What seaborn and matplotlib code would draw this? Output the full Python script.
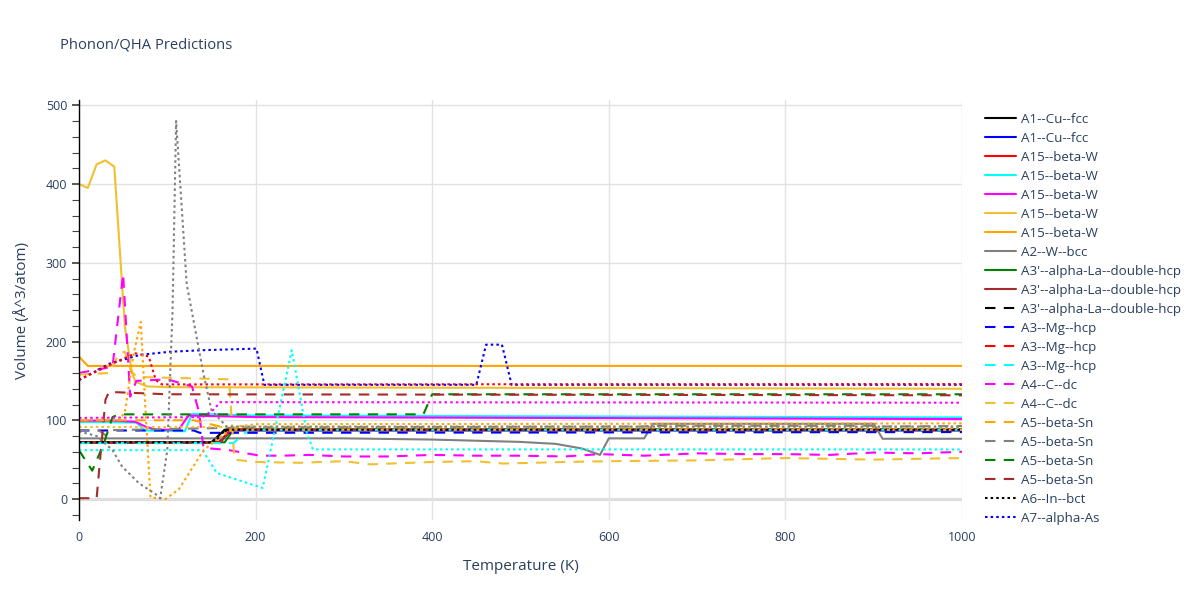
import numpy as np
import pandas as pd
import matplotlib
matplotlib.use("Agg")
import matplotlib.pyplot as plt
import seaborn as sns
from matplotlib.ticker import MultipleLocator

# ---- data (temperature K, volume A^3/atom) ----
cu_black_t = [0, 150, 165, 1000]
cu_black_v = [72, 72, 88, 88]
cu_blue_t = [0, 160, 172, 1000]
cu_blue_v = [72, 72, 87, 87]
w_red_t = [0, 158, 172, 1000]
w_red_v = [72, 72, 88, 88]
w_cyan_t = [0, 65, 75, 120, 128, 140, 200, 1000]
w_cyan_v = [98, 97, 87, 86, 108, 108, 106, 103.6]
w_magenta_t = [0, 40, 64, 75, 87, 113, 124, 200, 1000]
w_magenta_v = [99.5, 99.5, 98, 92, 88, 88, 106, 104, 101.5]
w_gold_t = [0, 10, 20, 30, 40, 52, 60, 64, 77, 100, 1000]
w_gold_v = [400, 395, 425, 430, 422, 219, 160, 149, 143, 142, 140]
w_orange_t = [0, 10, 1000]
w_orange_v = [181, 169, 169]
w_bcc_t = [0, 300, 400, 500, 540, 570, 590, 600, 640, 650, 900, 910, 1000]
w_bcc_v = [77, 77, 75.5, 72.5, 70, 64, 56, 77, 77, 95.5, 95.5, 76.5, 76.5]
la_green_t = [0, 165, 175, 1000]
la_green_v = [72, 72, 88, 88]
la_brown_t = [0, 160, 172, 1000]
la_brown_v = [72, 72, 88, 88]

la_black_dash_t = [0, 152, 168, 1000]
la_black_dash_v = [71.5, 71.5, 88, 88]
mg_blue_dash_t = [0, 130, 137, 1000]
mg_blue_dash_v = [87, 87, 84, 85]
mg_red_dash_t = [0, 158, 172, 1000]
mg_red_dash_v = [71.5, 71.5, 88, 88]
mg_cyan_dash_t = [0, 175, 192, 1000]
mg_cyan_dash_v = [71, 71, 88, 88]
c_magenta_dash_t = [0, 38, 50, 58, 65, 100, 128, 136, 141, 170, 205, 230, 260, 300, 350,
                    400, 450, 500, 550, 590, 640, 700, 750, 800, 850, 900, 950, 1000]
c_magenta_dash_v = [160, 168, 286, 130, 150, 152, 143, 110, 65, 62, 55, 55, 56, 54, 54,
                    56, 55, 55, 54, 57, 55, 58, 57, 57, 56, 59, 58, 60]
c_gold_dash_t = [0, 35, 45, 52, 58, 65, 170, 173, 176, 200, 250, 300, 330, 400, 450, 480,
                 550, 600, 700, 800, 900, 1000]
c_gold_dash_v = [158, 160, 185, 187, 165, 155, 152, 100, 50, 47, 46, 48, 44, 47, 48, 45,
                 47, 48, 49, 52, 50, 52]
sn_orange_dash_t = [0, 130, 175, 1000]
sn_orange_dash_v = [100, 100, 88, 88]
sn_gray_dash_t = [0, 22, 30, 38, 200, 640, 650, 900, 910, 1000]
sn_gray_dash_v = [87.5, 87.5, 81, 87.5, 91, 92, 93, 93, 92, 92.6]
sn_green_dash_t = [0, 15, 28, 38, 45, 390, 400, 1000]
sn_green_dash_v = [62, 36, 70, 104, 107.5, 107.5, 133, 133]
sn_brown_dash_t = [0, 20, 30, 34, 100, 1000]
sn_brown_dash_v = [1, 1, 126, 136, 133, 131.7]

in_black_dot_t = [0, 150, 167, 1000]
in_black_dot_v = [72, 72, 88, 88]
as_blue_dot_t = [0, 35, 69, 103, 141, 201, 210, 450, 461, 479, 490, 1000]
as_blue_dot_v = [151, 172, 183, 187, 189, 191, 145, 145, 196, 196, 145, 145]
red_dot_t = [0, 38, 64, 79, 87, 94, 1000]
red_dot_v = [151, 172, 185, 181, 151, 145.5, 146]
cyan_dot_t = [0, 140, 156, 208, 241, 258, 265, 1000]
cyan_dot_v = [62, 62, 33, 14, 189, 84, 63, 63]
magenta_dot_t = [0, 140, 152, 160, 1000]
magenta_dot_v = [103, 104, 113, 123, 122.3]
gold_dot_t = [0, 1000]
gold_dot_v = [91.5, 90.5]
orange_dot_t = [0, 45, 52, 62, 70, 75, 81, 98, 113, 141, 160, 180, 200, 1000]
orange_dot_v = [100, 100, 110, 185, 225, 120, 2, 0, 12, 62, 79, 92, 95, 96]
gray_dot_t = [0, 20, 38, 49, 68, 87, 92, 100, 106, 110, 122, 141, 150, 167, 1000]
gray_dot_v = [86, 80, 62, 41, 20, 6, 1, 62, 240, 480, 273, 159, 113, 92, 92]

GOLD = "#F0C030"
solid = "-"
dash = (0, (5, 4))
dot = (0, (1.2, 1.5))

traces = [
    ("A1--Cu--fcc", cu_black_t, cu_black_v, "black", solid),
    ("A1--Cu--fcc", cu_blue_t, cu_blue_v, "blue", solid),
    ("A15--beta-W", w_red_t, w_red_v, "red", solid),
    ("A15--beta-W", w_cyan_t, w_cyan_v, "cyan", solid),
    ("A15--beta-W", w_magenta_t, w_magenta_v, "magenta", solid),
    ("A15--beta-W", w_gold_t, w_gold_v, GOLD, solid),
    ("A15--beta-W", w_orange_t, w_orange_v, "orange", solid),
    ("A2--W--bcc", w_bcc_t, w_bcc_v, "gray", solid),
    ("A3'--alpha-La--double-hcp", la_green_t, la_green_v, "green", solid),
    ("A3'--alpha-La--double-hcp", la_brown_t, la_brown_v, "brown", solid),
    ("A3'--alpha-La--double-hcp", la_black_dash_t, la_black_dash_v, "black", dash),
    ("A3--Mg--hcp", mg_blue_dash_t, mg_blue_dash_v, "blue", dash),
    ("A3--Mg--hcp", mg_red_dash_t, mg_red_dash_v, "red", dash),
    ("A3--Mg--hcp", mg_cyan_dash_t, mg_cyan_dash_v, "cyan", dash),
    ("A4--C--dc", c_magenta_dash_t, c_magenta_dash_v, "magenta", dash),
    ("A4--C--dc", c_gold_dash_t, c_gold_dash_v, GOLD, dash),
    ("A5--beta-Sn", sn_orange_dash_t, sn_orange_dash_v, "orange", dash),
    ("A5--beta-Sn", sn_gray_dash_t, sn_gray_dash_v, "gray", dash),
    ("A5--beta-Sn", sn_green_dash_t, sn_green_dash_v, "green", dash),
    ("A5--beta-Sn", sn_brown_dash_t, sn_brown_dash_v, "brown", dash),
    ("A6--In--bct", in_black_dot_t, in_black_dot_v, "black", dot),
    ("A7--alpha-As", as_blue_dot_t, as_blue_dot_v, "blue", dot),
    ("A7--alpha-As", red_dot_t, red_dot_v, "red", dot),
    ("A7--alpha-As", cyan_dot_t, cyan_dot_v, "cyan", dot),
    ("A7--alpha-As", magenta_dot_t, magenta_dot_v, "magenta", dot),
    ("A7--alpha-As", gold_dot_t, gold_dot_v, GOLD, dot),
    ("A7--alpha-As", orange_dot_t, orange_dot_v, "orange", dot),
    ("A7--alpha-As", gray_dot_t, gray_dot_v, "gray", dot),
]

sns.set_theme(style="whitegrid")
plt.rcParams["font.family"] = ["Open Sans", "DejaVu Sans"]
txt = "#2a3f5f"

fig = plt.figure(figsize=(12, 6), dpi=100)
ax = fig.add_axes([0.0658, 0.1333, 0.7359, 0.7])

ax.axhline(0, color="#d6d6d6", lw=2, zorder=0.5)
for name, t, v, col, ls in traces:
    df = pd.DataFrame({"T": t, "V": v})
    sns.lineplot(data=df, x="T", y="V", ax=ax, color=col, linestyle=ls, lw=1.5,
                 sort=False, estimator=None, label=name, legend=False)

ax.set_xlim(0, 1000)
ax.set_ylim(-26.7, 506.7)
ax.xaxis.set_major_locator(MultipleLocator(200))
ax.yaxis.set_major_locator(MultipleLocator(100))
ax.yaxis.set_minor_locator(MultipleLocator(20))
ax.grid(True, which="major", color="#e2e2e2", lw=1)
ax.set_facecolor("white")
for s in ["top", "right", "bottom"]:
    ax.spines[s].set_visible(False)
ax.spines["left"].set_color("black")
ax.spines["left"].set_linewidth(1)
ax.tick_params(axis="y", which="both", left=True, direction="out", color="#444444",
               labelsize=9, labelcolor=txt)
ax.tick_params(axis="y", which="major", length=5)
ax.tick_params(axis="y", which="minor", length=5, width=0.8)
ax.tick_params(axis="x", bottom=False, labelsize=9, labelcolor=txt, pad=2)

ax.set_xlabel("Temperature (K)", fontsize=11, color=txt, labelpad=11)
ax.set_ylabel("Volume (Å^3/atom)", fontsize=11, color=txt, labelpad=11)
fig.text(0.05, 0.925, "Phonon/QHA Predictions", fontsize=10.6, color=txt, va="center")

lines = ax.get_lines()[1:23]
fig.legend(lines, [l.get_label() for l in lines], loc="upper left",
           bbox_to_anchor=(0.811, 0.832), frameon=False, fontsize=9.6,
           handlelength=2.3, labelspacing=0.45, handletextpad=0.35, labelcolor=txt)

fig.savefig("out.png", dpi=100)
